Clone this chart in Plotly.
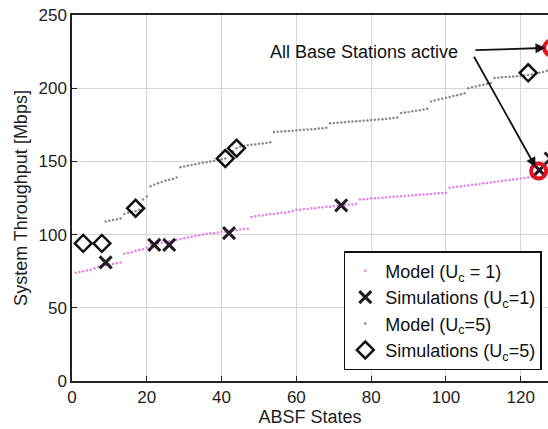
import plotly.graph_objects as go

# ---- data ----
model1_x = list(range(1, 125))
model1_y = [74, 74.5, 75, 75.5, 76, 77,
            78, 78.5, 79, 79.5, 80, 80.5, 81,
            87, 87.5, 88, 89, 89.5, 90, 91,
            93, 93.5, 94, 94.5, 95, 95.5, 96, 96.5, 97, 97.5, 98, 98.5, 99, 99.5, 100, 100.5, 101,
            101, 101.5, 102, 102, 102.5, 103, 103, 103.5, 104, 104,
            112, 112.5, 113, 113, 113.5, 114, 114, 114.5, 115, 115, 115.5, 116,
            117, 117, 117.5, 117.5, 118, 118, 118.5, 118.5, 119, 119, 119.5, 119.5, 120, 120, 120.5, 120.5, 121,
            124, 124.2, 124.4, 124.6, 124.8, 125, 125.2, 125.4, 125.6, 125.8, 126, 126.2, 126.4, 126.6,
            126.8, 127, 127.2, 127.4, 127.6, 127.8, 128, 128.2, 128.4, 128.6,
            132, 132.3, 132.6, 133, 133.3, 133.6, 134, 134.3, 134.6, 135, 135.3, 135.6, 136, 136.3,
            136.6, 137, 137.3, 137.6, 138, 138.3, 138.6, 139, 139.3, 140]

model5_x = list(range(9, 128))
model5_y = [109, 109.5, 110, 110.5, 111,
            114, 115, 115.5, 116, 117,
            124, 126,
            133, 134, 135, 136, 137, 137.5, 138, 139,
            146, 146.5, 147, 147.5, 148, 148.5, 149, 149.5, 150, 150.5, 151, 151.5,
            152, 155, 157, 159,
            160, 160.5, 161, 161.3, 161.6, 162, 162.3, 162.6, 163,
            170, 170.2, 170.4, 170.6, 170.8, 171, 171.2, 171.4, 171.6, 171.8, 172, 172.2, 172.4, 172.6, 173,
            176, 176.2, 176.4, 176.6, 176.8, 177, 177.2, 177.4, 177.6, 177.8, 178, 178.2, 178.4, 178.6,
            178.8, 179, 179.3, 179.6, 180,
            183, 183.4, 183.8, 184.2, 184.6, 185, 185.5, 186,
            191, 191.6, 192.2, 192.8, 193.4, 194, 194.6, 195.2, 195.8, 196.5,
            200, 200.6, 201.2, 201.8, 202.4, 203, 203.6,
            207, 207.2, 207.4, 207.6, 207.8, 208, 208.2, 208.4, 208.6,
            209, 209.5, 210, 210.5, 211, 212]

sim1_x = [9, 22, 26, 42, 72, 125, 128]
sim1_y = [81, 93, 93, 101, 120, 144, 152]

sim5_x = [3, 8, 17, 41, 44, 122, 128]
sim5_y = [94, 94, 118, 152, 159, 210.5, 228]

allbs_x = [124.8, 128.3]
allbs_y = [143.5, 227.5]

x_ticks = [0, 20, 40, 60, 80, 100, 120]
y_ticks = [0, 50, 100, 150, 200, 250]

FONT = "Liberation Sans, Arial, sans-serif"
TXT = "#1e1e1e"

fig = go.Figure()
fig.add_trace(go.Scatter(x=model1_x, y=model1_y, mode="markers", name="Model (U<sub>c</sub> = 1)",
                         marker=dict(size=2.5, color="#e87ee8", line=dict(width=0))))
fig.add_trace(go.Scatter(x=sim1_x, y=sim1_y, mode="markers", name="Simulations (U<sub>c</sub>=1)",
                         marker=dict(symbol="x-thin-open", size=12, color="#231a23",
                                     line=dict(width=3, color="#231a23"))))
fig.add_trace(go.Scatter(x=model5_x, y=model5_y, mode="markers", name="Model (U<sub>c</sub>=5)",
                         marker=dict(size=2.5, color="#8a8a8a", line=dict(width=0))))
fig.add_trace(go.Scatter(x=sim5_x, y=sim5_y, mode="markers", name="Simulations (U<sub>c</sub>=5)",
                         marker=dict(symbol="diamond-open", size=13, color="#111111",
                                     line=dict(width=2.5, color="#111111"))))
fig.add_trace(go.Scatter(x=allbs_x, y=allbs_y, mode="markers", showlegend=False,
                         marker=dict(symbol="circle-open", size=15, color="#e0141e",
                                     line=dict(width=4, color="#e0141e"))))

fig.add_annotation(x=78, y=225, text="All Base Stations active", showarrow=False,
                   font=dict(family=FONT, size=18, color="#111111"))
fig.add_annotation(x=allbs_x[1] - 1.7, y=allbs_y[1], ax=107.5, ay=226, axref="x", ayref="y",
                   text="", showarrow=True, arrowhead=2, arrowsize=1.1, arrowwidth=1.8, arrowcolor="#111111")
fig.add_annotation(x=allbs_x[0] - 0.8, y=allbs_y[0] + 2.5, ax=107.3, ay=222.5, axref="x", ayref="y",
                   text="", showarrow=True, arrowhead=2, arrowsize=1.1, arrowwidth=1.8, arrowcolor="#111111")

fig.update_layout(
    width=548, height=429,
    margin=dict(l=72, r=0, t=15, b=48),
    paper_bgcolor="white", plot_bgcolor="white",
    font=dict(family=FONT, size=17, color=TXT),
    showlegend=True,
    legend=dict(x=0.571, y=0.355, xanchor="left", yanchor="top",
                bgcolor="white", bordercolor="#111111", borderwidth=1.5,
                font=dict(family=FONT, size=18, color="#111111"),
                tracegroupgap=0),
)
fig.update_xaxes(range=[0, 127.3], tickvals=x_ticks, showgrid=True, gridcolor="#d6d6d6",
                 zeroline=False, showline=True, linecolor="#222222", linewidth=1.5, mirror=True,
                 ticks="inside", ticklen=5, tickcolor="#222222",
                 tickfont=dict(size=17, color=TXT),
                 title=dict(text="ABSF States", font=dict(size=18, color=TXT), standoff=4))
fig.update_yaxes(range=[0, 250], tickvals=y_ticks, showgrid=True, gridcolor="#d6d6d6",
                 zeroline=False, showline=True, linecolor="#222222", linewidth=1.5,
                 ticks="inside", ticklen=5, tickcolor="#222222",
                 tickfont=dict(size=17, color=TXT),
                 title=dict(text="System Throughput [Mbps]", font=dict(size=18, color=TXT), standoff=6))

fig.write_html("out.html")
